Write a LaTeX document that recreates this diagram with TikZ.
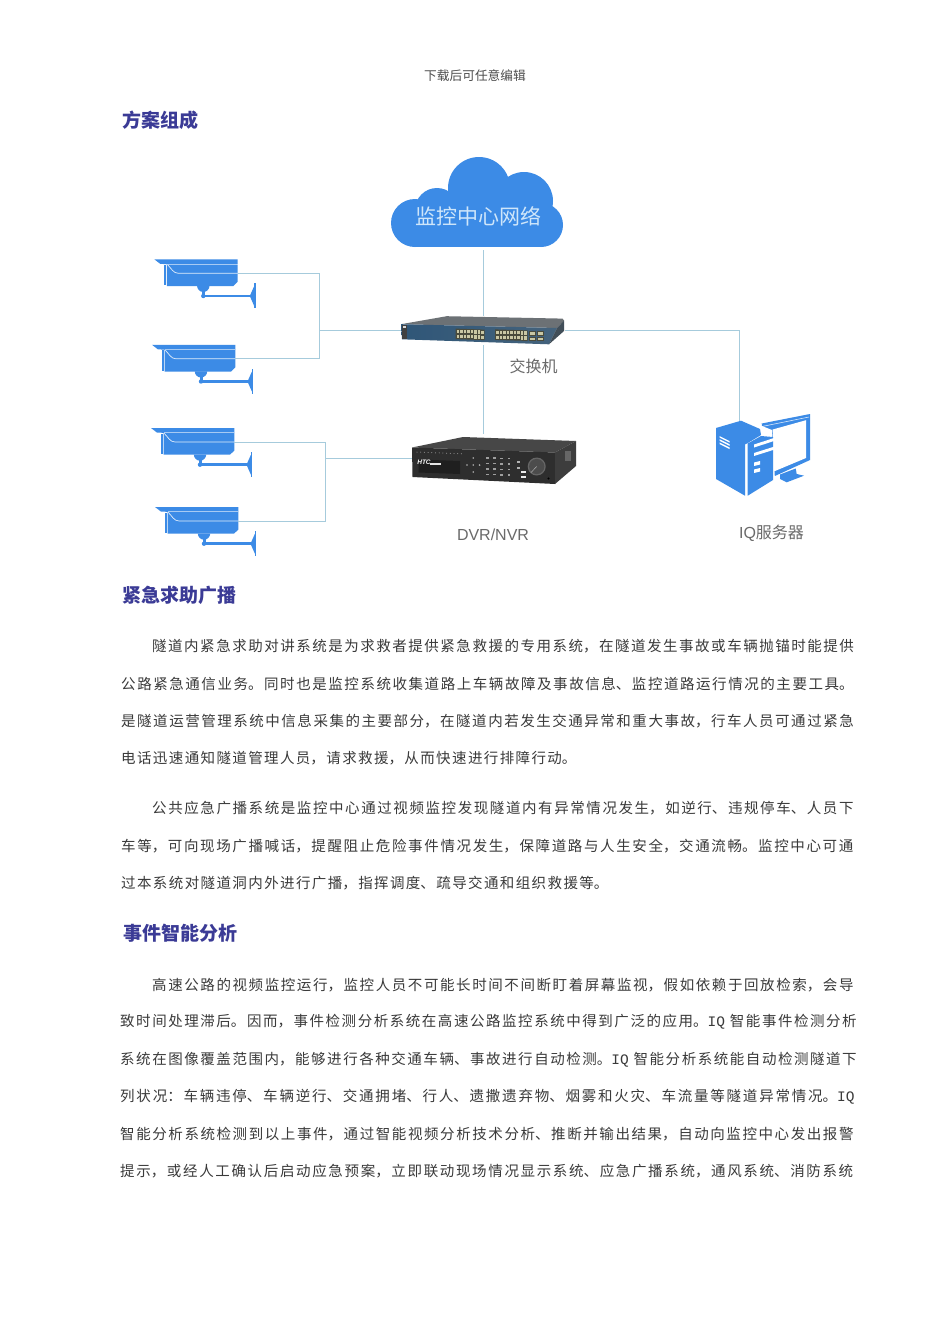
\documentclass[tikz,border=0pt]{standalone}
\usepackage{fontspec}
\setmainfont{Noto Sans CJK SC}
\newfontfamily\latinsans{Liberation Sans}
\newfontfamily\halfmono{Liberation Mono}
\usetikzlibrary{calc}
\definecolor{iconblue}{HTML}{3C8BE6}
\definecolor{linkblue}{HTML}{A6CBDC}
\definecolor{headblue}{HTML}{3B3B96}
\definecolor{bodygray}{HTML}{3A3A3A}
\definecolor{labelgray}{HTML}{6A6A6A}
\definecolor{cloudtext}{HTML}{CFE6FA}
\definecolor{swfrontl}{HTML}{2F5678}
\definecolor{swfrontr}{HTML}{45637C}
\definecolor{swtop}{HTML}{6C7175}
\definecolor{swend}{HTML}{414E58}
\definecolor{portbg}{HTML}{4A4B3C}
\definecolor{portfg}{HTML}{C9C7A4}
\newcommand{\IQ}{{\halfmono IQ}}
\XeTeXlinebreaklocale "zh" 
\XeTeXlinebreakskip=0pt plus 6pt\relax
\tikzset{
  link/.style={draw=linkblue,line width=0.9pt},
  ghost/.style={draw=none,inner sep=0pt,outer sep=0pt},
  heading/.style={anchor=west,inner sep=0pt,text=headblue,font=\fontsize{19}{21}\selectfont\bfseries},
  bodytext/.style={anchor=west,inner sep=0pt,text=bodygray,font=\fontsize{14.5}{18}\selectfont},
  devlabel/.style={inner sep=0pt,text=labelgray,font=\fontsize{16}{18}\selectfont},
}
\newcommand{\bodyline}[5]{%
  \node[bodytext,text width=#4pt] (#1) at (#2,#3) {\noindent\parfillskip=0pt\relax #5\par};}
\newcommand{\camera}[3]{%
  \begin{scope}[shift={(#2,#3)}]
    \fill[iconblue] (0,0) -- (83.4,0) -- (83.4,22.4) -- (79,26.7) -- (12.6,26.7) -- (12.6,4.8) -- (6,4.6) -- cycle;
    \fill[iconblue] (10,5.6) rectangle (11.7,25.8);
    \draw[white,line width=0.7pt,opacity=.85] (13.3,5.4) .. controls (17,9) and (19,14) .. (24,14) -- (83.4,14);
    \draw[white,line width=0.5pt,opacity=.55] (13,4.6) -- (83.4,4.6);
    \fill[iconblue] (42.8,26.5) arc[start angle=180,end angle=0,radius=6.2] -- cycle;
    \fill[iconblue] (47.5,30) rectangle (50.5,36);
    \fill[iconblue] (49,36.7) circle (2.2);
    \fill[iconblue] (49,35.4) rectangle (97,38);
    \fill[iconblue] (95.5,36.7) -- (99.8,27) -- (99.8,46.5) -- cycle;
    \fill[iconblue] (99.7,24) rectangle (101.3,49);
    \node[ghost,minimum width=83.4pt,minimum height=28pt] (#1) at (41.7,14) {};
  \end{scope}}
\begin{document}
\begin{tikzpicture}[x=1pt,y=-1pt]
\useasboundingbox (0,0) rectangle (950,1344);
\fill[white] (0,0) rectangle (950,1344);

\node[inner sep=0pt,text=black!70,font=\fontsize{12.7}{15}\selectfont] (hdr) at (475,76) {下载后可任意编辑};
\node[heading] (t1) at (122,120) {方案组成};

%% ghost nodes for devices
\node[ghost,minimum width=172pt,minimum height=90pt] (cloud) at (477.5,202) {};
\node[ghost,minimum width=164pt,minimum height=29pt] (sw) at (483,330.5) {};
\node[ghost,minimum width=164pt,minimum height=44pt] (dvr) at (494,458.5) {};
\coordinate (jl) at (319,330.5);
\coordinate (jr) at (325,458.5);
\coordinate (iqtop) at (739,421);

%% cameras
\camera{cam1}{154.3}{259.3}
\camera{cam2}{152}{344.8}
\camera{cam3}{151}{428}
\camera{cam4}{155}{507}

%% connectors
\draw[link] (cam1.east) -| (jl);
\draw[link] (cam2.east) -| (jl);
\draw[link] (jl) -- (sw.west);
\draw[link] (cam3.east) -| (jr);
\draw[link] (cam4.east) -| (jr);
\draw[link] (jr) -- (dvr.west);
\draw[link,shorten <=3pt] (cloud.south -| sw.north) -- (sw.north);
\draw[link,shorten >=3pt] (sw.south) -- (sw.south |- dvr.north);
\draw[link] (sw.east) -| (iqtop);

%% cloud
\fill[iconblue] (415,223) circle (24);
\fill[iconblue] (437,210) circle (22);
\fill[iconblue] (479,188) circle (31);
\fill[iconblue] (524,201) circle (29);
\fill[iconblue] (541,225) circle (22);
\fill[iconblue] (415,210) rectangle (541,247);
\node[inner sep=0pt,text=cloudtext,font=\fontsize{21}{23}\selectfont] (cloudlabel) at (478,216) {监控中心网络};

%% switch
\fill[swtop] (401,324.2) -- (446.7,316.2) -- (562.5,318.6) -- (564,320.5) -- (557,328) -- cycle;
\shade[left color=swfrontl,right color=swfrontr] (401,324.2) -- (557,328) -- (549,344.3) -- (402,339.3) -- cycle;
\fill[swend] (557,328) -- (564,320.5) -- (564,331) -- (549,344.3) -- cycle;
\fill[black!75] (401.5,324.8) rectangle (407,338.8);
\fill[white!70!gray] (402.5,326) rectangle (406,328);
\foreach \bx/\by/\cols in {455.5/328.6/8,495/329.4/9}{
  \pgfmathsetmacro{\bw}{\cols*3.5+1}
  \fill[portbg] (\bx,\by) -- ++(\bw,1) -- ++(0,10.5) -- ++(-\bw,-1) -- cycle;
  \foreach \r in {0,1}{
    \foreach \c in {1,...,\cols}{
      \pgfmathsetmacro{\px}{\bx+1+(\c-1)*3.5}
      \pgfmathsetmacro{\py}{\by+1.2+\r*5+(\c-1)*0.1}
      \fill[portfg] (\px,\py) rectangle ++(2.5,3.2);
    }}}
\foreach \bx in {528.5,537}{
  \foreach \r in {0,1}{
    \pgfmathsetmacro{\py}{331+\r*5.5}
    \fill[portbg] (\bx,\py) rectangle ++(7,4.5);
    \fill[portfg] (\bx+1,\py+1) rectangle ++(5,2.5);
  }}
\node[devlabel] (swlabel) at (533.5,366) {交换机};

%% DVR
\fill[black!72] (412,447.5) -- (463,437) -- (576,441) -- (555,452.5) -- cycle;
\fill[black!82] (412,447.5) -- (555,452.5) -- (555,484) -- (412.5,477) -- cycle;
\fill[black!76] (555,452.5) -- (576,441) -- (576,466) -- (555,484) -- cycle;
\foreach \i in {0,...,12}{\fill[gray!70] ({417+\i*3.7},{452+\i*0.15}) circle (0.5);}
\fill[black!88] (418.5,459.5) -- (460,461) -- (460,474) -- (418.5,472.5) -- cycle;
\node[inner sep=0pt,text=white,font=\fontsize{6.5}{7}\latinsans\bfseries\itshape] (htc) at (424,462.5) {HTC};
\fill[white!80!gray] (430,462.5) rectangle (441,465);
\foreach \px/\py in {473.3/458,473.3/465,473.3/472,467/465,479.6/465}{\fill[gray!60] (\px,\py) circle (0.9);}
\foreach \c in {0,...,3}{\foreach \r in {0,...,3}{
  \fill[gray!75] ({486+\c*7.2},{457+\r*5.5+\c*0.25}) rectangle ++(2.5,1.6);}}
\fill[gray!60] (517,461) rectangle ++(2.5,1.5);
\fill[gray!60] (517,467) rectangle ++(2.5,1.5);
\fill[gray!80!black] (536.7,466.5) circle (9);
\fill[black!70] (536.7,466.5) circle (7.6);
\draw[gray!60,line width=0.5pt] (536.7,466.5) -- (531,472.5);
\fill[white!85!gray] (521,471) rectangle ++(4.5,1.6);
\fill[white!85!gray] (521,476) rectangle ++(4.5,1.6);
\fill[black] (548.5,478.5) circle (1.1);
\fill[black!60] (565,451) rectangle (571,461);
\node[devlabel,font=\fontsize{16}{18}\latinsans] (dvrlabel) at (493,534.5) {DVR/NVR};

%% IQ server
\fill[iconblue] (761.7,423.5) -- (810,414) -- (810,460) -- (773.3,476.7) -- (766,470) -- cycle;
\draw[white,line width=0.6pt,opacity=.8] (762,426.5) -- (809,417);
\fill[white] (772.7,429.5) -- (806,420.2) -- (806,458) -- (773.3,471.7) -- cycle;
\fill[iconblue] (780,474.5) -- (795.7,468.5) -- (796.7,474) -- (804,475.7) -- (786.7,482.3) -- (780,479) -- cycle;
\fill[white] (757,424) -- (772,430) -- (775,480) -- (749,499) -- (743,440) -- cycle;
\fill[iconblue] (716,428) -- (741,420.7) -- (760,429) -- (761,435) -- (747,443.5) -- (745,444.3) -- (745,495.7) -- (716,479) -- cycle;
\fill[iconblue] (747.7,443.5) -- (761,436) -- (773,437) -- (773,480) -- (747.7,495.7) -- cycle;
\foreach \d in {0,3.2,6.4}{\fill[white] (719.5,{436+\d}) -- (729.5,{441+\d}) -- (729.5,{442.6+\d}) -- (719.5,{437.6+\d}) -- cycle;}
\fill[white] (754,444.5) -- (774,438) -- (774,441) -- (754,447.5) -- cycle;
\fill[white] (754,453) -- (774,446.7) -- (774,449.7) -- (754,456) -- cycle;
\fill[white] (754,462.5) -- (760,461) -- (760,464.5) -- (754,466) -- cycle;
\fill[white] (754,469.5) -- (760,468) -- (760,471.5) -- (754,473) -- cycle;
\node[devlabel] (iqlabel) at (771.5,533.5) {{\latinsans IQ}服务器};

%% text
\node[heading] (t2) at (122,595) {紧急求助广播};
\bodyline{a1}{152}{646.5}{709}{隧道内紧急求助对讲系统是为求救者提供紧急救援的专用系统^^^^ff0c在隧道发生事故或车辆抛锚时能提供}
\bodyline{a2}{121}{684}{740}{公路紧急通信业务。同时也是监控系统收集道路上车辆故障及事故信息、监控道路运行情况的主要工具。}
\bodyline{a3}{121}{721}{740}{是隧道运营管理系统中信息采集的主要部分^^^^ff0c在隧道内若发生交通异常和重大事故^^^^ff0c行车人员可通过紧急}
\bodyline{a4}{121}{758.5}{462}{电话迅速通知隧道管理人员^^^^ff0c请求救援^^^^ff0c从而快速进行排障行动。}
\bodyline{b1}{152}{808.5}{709}{公共应急广播系统是监控中心通过视频监控发现隧道内有异常情况发生^^^^ff0c如逆行、违规停车、人员下}
\bodyline{b2}{121}{846}{740}{车等^^^^ff0c可向现场广播喊话^^^^ff0c提醒阻止危险事件情况发生^^^^ff0c保障道路与人生安全^^^^ff0c交通流畅。监控中心可通}
\bodyline{b3}{121}{883}{494}{过本系统对隧道洞内外进行广播^^^^ff0c指挥调度、疏导交通和组织救援等。}
\node[heading] (t3) at (123,933) {事件智能分析};
\bodyline{c1}{152}{985}{709}{高速公路的视频监控运行^^^^ff0c监控人员不可能长时间不间断盯着屏幕监视^^^^ff0c假如依赖于回放检索^^^^ff0c会导}
\bodyline{c2}{120}{1022}{744}{致时间处理滞后。因而^^^^ff0c事件检测分析系统在高速公路监控系统中得到广泛的应用。\IQ\ 智能事件检测分析}
\bodyline{c3}{120}{1060}{744}{系统在图像覆盖范围内^^^^ff0c能够进行各种交通车辆、事故进行自动检测。\IQ\ 智能分析系统能自动检测隧道下}
\bodyline{c4}{120}{1097}{743}{列状况^^^^ff1a车辆违停、车辆逆行、交通拥堵、行人、遗撒遗弃物、烟雾和火灾、车流量等隧道异常情况。\IQ}
\bodyline{c5}{120}{1134}{741}{智能分析系统检测到以上事件^^^^ff0c通过智能视频分析技术分析、推断并输出结果^^^^ff0c自动向监控中心发出报警}
\bodyline{c6}{120}{1171.5}{741}{提示^^^^ff0c或经人工确认后启动应急预案^^^^ff0c立即联动现场情况显示系统、应急广播系统^^^^ff0c通风系统、消防系统}
\end{tikzpicture}
\end{document}
